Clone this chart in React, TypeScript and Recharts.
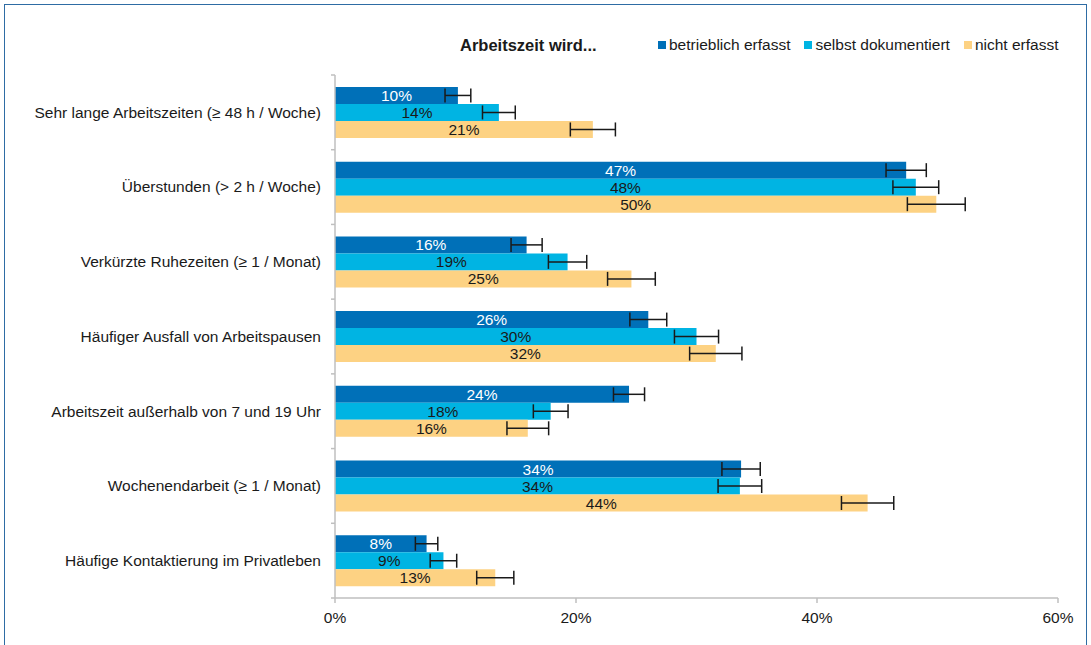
import React from 'react';
import { BarChart, Bar, XAxis, YAxis, ErrorBar, LabelList, Legend } from 'recharts';

const categories = [
  'Sehr lange Arbeitszeiten (≥ 48 h / Woche)',
  'Überstunden (> 2 h / Woche)',
  'Verkürzte Ruhezeiten (≥ 1 / Monat)',
  'Häufiger Ausfall von Arbeitspausen',
  'Arbeitszeit außerhalb von 7 und 19 Uhr',
  'Wochenendarbeit (≥ 1 / Monat)',
  'Häufige Kontaktierung im Privatleben',
];
const betrieblich = [10.2, 47.4, 15.9, 26.0, 24.4, 33.7, 7.6];
const selbst = [13.6, 48.2, 19.3, 30.0, 17.9, 33.6, 9.0];
const nicht = [21.4, 49.9, 24.6, 31.6, 16.0, 44.2, 13.3];
const betrieblichErr = [1.07, 1.67, 1.29, 1.53, 1.29, 1.59, 0.93];
const selbstErr = [1.36, 1.9, 1.59, 1.83, 1.44, 1.81, 1.1];
const nichtErr = [1.87, 2.4, 1.98, 2.17, 1.73, 2.17, 1.54];
const xTicks = [0, 20, 40, 60];
const seriesNames = ['betrieblich erfasst', 'selbst dokumentiert', 'nicht erfasst'];
const seriesColors = ['#0070B8', '#00B4E3', '#FDD283'];
const labelColors = ['#FFFFFF', '#1A1A1A', '#1A1A1A'];
const legendTitle = 'Arbeitszeit wird...';

const data = categories.map((name, i) => ({
  name,
  b: betrieblich[i],
  s: selbst[i],
  n: nicht[i],
  bErr: betrieblichErr[i],
  sErr: selbstErr[i],
  nErr: nichtErr[i],
}));

const FONT = '"Liberation Sans", Arial, sans-serif';
const W = 1091;
const H = 645;
const MARGIN = { top: 75, right: 33, bottom: 17, left: 5 };
const Y_WIDTH = 330;
const X_HEIGHT = 30;
const AXIS_X = MARGIN.left + Y_WIDTH;
const PLOT_H = H - MARGIN.top - MARGIN.bottom - X_HEIGHT;
const AXIS_COLOR = '#BFBFBF';
const TEXT_COLOR = '#1A1A1A';

const CatTick = (props: any) => {
  const { y, payload, index } = props;
  const band = PLOT_H / categories.length;
  const last = index === categories.length - 1;
  return (
    <g>
      <line x1={AXIS_X - 4} x2={AXIS_X} y1={y - band / 2} y2={y - band / 2} stroke={AXIS_COLOR} strokeWidth={1.5} />
      {last && (
        <line x1={AXIS_X - 4} x2={AXIS_X} y1={y + band / 2} y2={y + band / 2} stroke={AXIS_COLOR} strokeWidth={1.5} />
      )}
      <text x={AXIS_X - 14} y={y} dy="0.35em" textAnchor="end" fill={TEXT_COLOR} fontSize={15.5} fontFamily={FONT}>
        {payload.value}
      </text>
    </g>
  );
};

const renderLegend = () => (
  <div style={{ position: 'relative', height: 20, width: W, fontFamily: FONT, fontSize: 15.5, color: TEXT_COLOR }}>
    <span style={{ position: 'absolute', left: 460, top: 0, fontWeight: 'bold', fontSize: 16.5, lineHeight: '20px', whiteSpace: 'nowrap' }}>
      {legendTitle}
    </span>
    <div style={{ position: 'absolute', left: 658, top: 0, display: 'flex', gap: 14, lineHeight: '20px', whiteSpace: 'nowrap' }}>
      {seriesNames.map((name, i) => (
        <div key={name} style={{ display: 'flex', alignItems: 'center' }}>
          <span style={{ display: 'inline-block', width: 8, height: 8, background: seriesColors[i], marginRight: 3 }} />
          <span>{name}</span>
        </div>
      ))}
    </div>
  </div>
);

const fmt = (v: any) => `${Math.round(Number(v))}%`;

export default function App() {
  const keys = ['b', 's', 'n'];
  const errKeys = ['bErr', 'sErr', 'nErr'];
  return (
    <div style={{ position: 'absolute', left: 0, top: 0, width: W, height: H, background: '#fff', overflow: 'hidden' }}>
      <div
        style={{
          position: 'absolute',
          left: 4,
          top: 4,
          width: 1083,
          height: 700,
          borderLeft: '1.5px solid #2E6CA4',
          borderTop: '1.5px solid #2E6CA4',
          borderRight: '1.5px solid #2E6CA4',
          boxSizing: 'border-box',
        }}
      />
      <div style={{ position: 'absolute', left: 0, top: 0 }}>
        <BarChart
          width={W}
          height={H}
          data={data}
          layout="vertical"
          margin={MARGIN}
          barCategoryGap="16%"
          barGap={0}
        >
          <XAxis
            type="number"
            domain={[0, 60]}
            ticks={xTicks}
            interval={0}
            tickFormatter={(v: number) => `${v}%`}
            axisLine={{ stroke: AXIS_COLOR, strokeWidth: 1.5 }}
            tickLine={{ stroke: AXIS_COLOR, strokeWidth: 1.5 }}
            tickSize={5}
            tickMargin={9}
            height={X_HEIGHT}
            tick={{ fill: TEXT_COLOR, fontSize: 15.5, fontFamily: FONT }}
          />
          <YAxis
            type="category"
            dataKey="name"
            width={Y_WIDTH}
            interval={0}
            axisLine={{ stroke: AXIS_COLOR, strokeWidth: 1.5 }}
            tickLine={false}
            tick={<CatTick />}
          />
          <Legend layout="horizontal" verticalAlign="middle" align="center" wrapperStyle={{ top: 35, left: 0, width: W, height: 20 }} content={renderLegend} />
          {keys.map((k, i) => (
            <Bar key={k} dataKey={k} name={seriesNames[i]} fill={seriesColors[i]} isAnimationActive={false}>
              <ErrorBar dataKey={errKeys[i]} direction="x" width={7} stroke="#1A1A1A" strokeWidth={1.5} isAnimationActive={false} />
              <LabelList
                dataKey={k}
                position="center"
                formatter={fmt}
                fill={labelColors[i]}
                stroke="none"
                fontWeight="normal"
                fontSize={15.5}
                fontFamily={FONT}
              />
            </Bar>
          ))}
        </BarChart>
      </div>
    </div>
  );
}
